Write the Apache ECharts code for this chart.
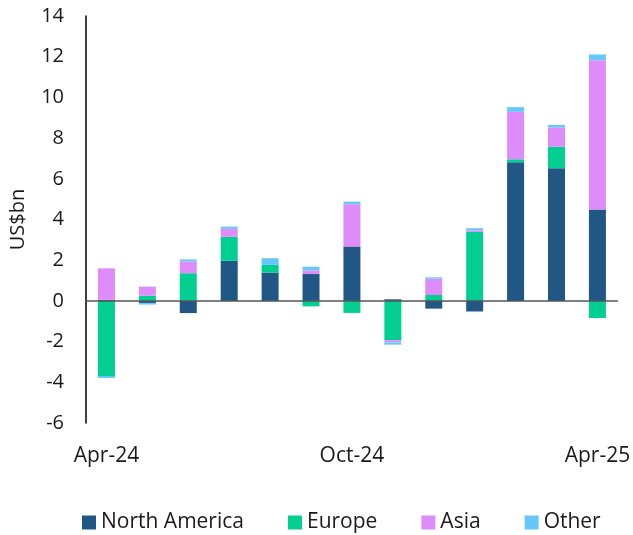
<!DOCTYPE html>
<html>
<head>
<meta charset="utf-8">
<script src="https://cdn.jsdelivr.net/npm/echarts@6/dist/echarts.min.js"></script>
<style>
  html, body { margin: 0; padding: 0; background: #fff; }
  #chart { width: 633px; height: 535px; }
</style>
</head>
<body>
<div id="chart"></div>
<script>
// months Apr-24 .. Apr-25
const months = ['Apr-24', 'May-24', 'Jun-24', 'Jul-24', 'Aug-24', 'Sep-24', 'Oct-24',
                'Nov-24', 'Dec-24', 'Jan-25', 'Feb-25', 'Mar-25', 'Apr-25'];
const northAmerica = [0.05, -0.1, -0.6, 1.97, 1.39, 1.32, 2.67, 0.08, -0.38, -0.52, 6.81, 6.52, 4.49];
const europe = [-3.69, 0.26, 1.36, 1.18, 0.38, -0.27, -0.59, -1.93, 0.29, 3.39, 0.15, 1.05, -0.84];
const asia = [1.55, 0.44, 0.58, 0.39, 0, 0.18, 2.08, -0.11, 0.8, 0.08, 2.33, 0.95, 7.34];
const other = [-0.1, -0.08, 0.1, 0.11, 0.33, 0.18, 0.13, -0.11, 0.07, 0.1, 0.23, 0.13, 0.28];
const yTicks = { min: -6, max: 14, interval: 2 };

const font = '"Open Sans", "Noto Sans", sans-serif';
const txt = '#1a1a1a';

const chart = echarts.init(document.getElementById('chart'));

function bar(name, data, color) {
    return {
        name: name,
        type: 'bar',
        stack: 'total',
        barWidth: 17,
        data: data,
        itemStyle: { color: color },
        emphasis: { disabled: true }
    };
}

const series = [
    bar('North America', northAmerica, '#215784'),
    bar('Europe', europe, '#00cf91'),
    bar('Asia', asia, '#de8cfa'),
    bar('Other', other, '#66c8fa')
];
// zero line across the plot
series[3].markLine = {
    silent: true,
    symbol: 'none',
    label: { show: false },
    lineStyle: { color: '#555', width: 1.5, type: 'solid' },
    data: [{ yAxis: 0 }]
};

const option = {
    animation: false,
    textStyle: { fontFamily: font },
    grid: { left: 85, right: 12, top: 16, bottom: 112 },
    legend: {
        left: 77,
        top: 507,
        itemWidth: 14,
        itemHeight: 14,
        itemGap: 44,
        icon: 'rect',
        textStyle: { fontSize: 21, color: txt, fontFamily: font },
        data: ['North America', 'Europe', 'Asia', 'Other']
    },
    xAxis: {
        type: 'category',
        data: months,
        axisLine: { show: false, onZero: false },
        axisTick: { show: false },
        axisLabel: {
            interval: 5,
            margin: 23,
            fontSize: 21,
            color: txt,
            fontFamily: font
        }
    },
    yAxis: {
        type: 'value',
        min: yTicks.min,
        max: yTicks.max,
        interval: yTicks.interval,
        name: 'US$bn',
        nameLocation: 'middle',
        nameGap: 58,
        nameTextStyle: { fontSize: 20, color: txt, fontFamily: font },
        axisLine: { show: true, lineStyle: { color: '#000', width: 1.5 } },
        axisTick: { show: false },
        splitLine: { show: false },
        axisLabel: { margin: 22, fontSize: 20, color: txt, fontFamily: font }
    },
    series: series
};

chart.setOption(option);
</script>
</body>
</html>
